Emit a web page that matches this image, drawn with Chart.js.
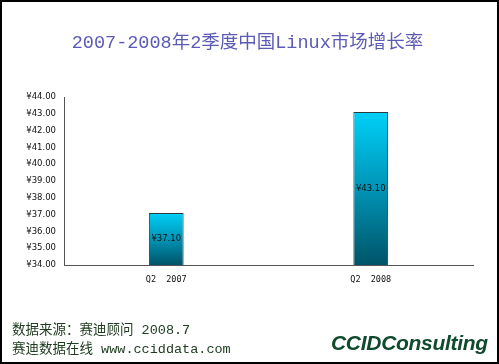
<!DOCTYPE html>
<html>
<head>
<meta charset="utf-8">
<script src="https://cdn.jsdelivr.net/npm/chart.js@4"></script>
<style>
  html, body { margin: 0; padding: 0; background: #fff; }
  #wrap { position: relative; width: 499px; height: 364px; overflow: hidden; }
  #frame { position: absolute; left: 0; top: 0; width: 495px; height: 360px; border: 2px solid #000; pointer-events: none; }
  canvas { position: absolute; left: 0; top: 0; }
  .txt { position: absolute; white-space: nowrap; }
  #title { left: 0; width: 495px; top: 27px; text-align: center; color: #5b5bb5;
    font: 18.5px "Liberation Mono", "Noto Sans CJK SC", serif; }
  .src { left: 12px; color: #213d21; font: 13.5px "Liberation Mono", "Noto Sans CJK SC", serif; }
  #logo { left: 331px; top: 331px; color: #0f4a2c; font: italic bold 21px "Liberation Sans", Arial, sans-serif; letter-spacing: -0.3px; }
</style>
</head>
<body>
<div id="wrap">
  <canvas id="myBarChart" width="499" height="364"></canvas>
  <div id="title" class="txt">2007-2008年2季度中国Linux市场增长率</div>
  <div class="txt src" style="top:318px">数据来源：赛迪顾问 2008.7</div>
  <div class="txt src" style="top:337px">赛迪数据在线 www.cciddata.com</div>
  <div id="logo" class="txt">CCIDConsulting</div>
  <div id="frame"></div>
</div>
<script>
// chart data
const categories = ["Q2  2007", "Q2  2008"];
const values = [37.1, 43.1];
const yTicks = [34, 35, 36, 37, 38, 39, 40, 41, 42, 43, 44];

function money(v) {
  return "¥" + v.toFixed(2);
}

// labels in the middle of each bar (base is off the axis, so clip to the bottom)
const barLabels = {
  id: "barLabels",
  afterDatasetsDraw(chart) {
    const c = chart.ctx;
    const meta = chart.getDatasetMeta(0);
    const bottom = chart.chartArea.bottom;
    c.save();
    c.font = "8.5px 'DejaVu Sans', sans-serif";
    c.fillStyle = "#111";
    c.textAlign = "center";
    c.textBaseline = "middle";
    meta.data.forEach((bar, i) => {
      const base = Math.min(bar.base, bottom);
      c.fillText(money(values[i]), bar.x, (bar.y + base) / 2);
    });
    c.restore();
  },
};

const ctx = document.getElementById("myBarChart").getContext("2d");
const myBarChart = new Chart(ctx, {
  type: "bar",
  data: {
    labels: categories,
    datasets: [
      {
        data: values,
        backgroundColor: function (c) {
          const chart = c.chart;
          if (!chart.chartArea || c.dataIndex === undefined) return "#00b8dd";
          const y = chart.scales.y;
          const top = y.getPixelForValue(values[c.dataIndex]);
          const g = chart.ctx.createLinearGradient(0, top, 0, y.bottom);
          g.addColorStop(0, "#00d0f8");
          g.addColorStop(0.5, "#0094b6");
          g.addColorStop(1, "#005468");
          return g;
        },
        borderColor: "#2a3a40",
        borderWidth: 1,
        borderSkipped: false,
        barPercentage: 0.17,
        categoryPercentage: 1,
      },
    ],
  },
  options: {
    responsive: false,
    animation: false,
    layout: { padding: { left: 0, right: 26, top: 97, bottom: 69 } },
    plugins: {
      legend: { display: false },
      title: { display: false },
      tooltip: { enabled: false },
    },
    scales: {
      x: {
        grid: { display: false, drawTicks: false },
        border: { color: "#555", width: 1 },
        ticks: {
          color: "#111",
          padding: 10,
          font: { family: "DejaVu Sans Mono", size: 8.5 },
        },
        afterFit(axis) { axis.height = 30; },
      },
      y: {
        min: 34,
        max: 44,
        afterBuildTicks(axis) { axis.ticks = yTicks.map((v) => ({ value: v })); },
        grid: { display: false, drawTicks: false },
        border: { color: "#555", width: 1 },
        ticks: {
          color: "#111",
          padding: 8,
          font: { family: "DejaVu Sans", size: 8.5 },
          callback: (v) => money(v),
        },
        afterFit(axis) { axis.width = 64; },
      },
    },
  },
  plugins: [barLabels],
});
</script>
</body>
</html>
